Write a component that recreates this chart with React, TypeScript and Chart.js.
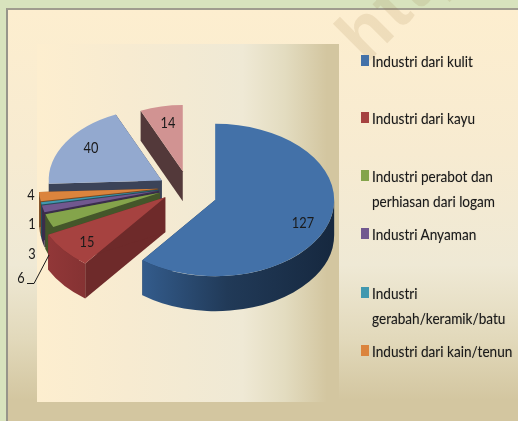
import React, { useEffect, useRef } from "react";
import { Chart, registerables } from "chart.js";

Chart.register(...registerables);

const categories = [
  "Industri dari kulit",
  "Industri dari kayu",
  "Industri perabot dan perhiasan dari logam",
  "Industri Anyaman",
  "Industri gerabah/keramik/batu",
  "Industri dari kain/tenun",
  "Lainnya A",
  "Lainnya B",
];
const values = [127, 15, 6, 3, 1, 4, 40, 14];
const topColors = ["#4371a8", "#a64240", "#84a44b", "#71588f", "#4198af", "#db843d", "#93a9cf", "#d19392"];
const sideColors = ["#1e3554", "#6e2a2a", "#44562a", "#3a2d4b", "#22505c", "#7a4a22", "#3b4358", "#53393a"];
const explode = [34, 23, 25, 25, 25, 25, 25, 30];
const sliceScale = [1, 1.1, 1, 1, 1, 1, 0.95, 0.87];
const nudgeX = [0, 0, 0, 0, 0, 0, 0, 6];
const nudgeY = [6, 1, 0, 0, 0, 0, 2, 3];
const depths = [35, 35, 35, 35, 35, 35, 35, 30];
const legendRows: { lines: string[]; color: string; top: number }[] = [
  { lines: ["Industri dari kulit"], color: "#4371a8", top: 61 },
  { lines: ["Industri dari kayu"], color: "#a64240", top: 118 },
  { lines: ["Industri perabot dan", "perhiasan dari logam"], color: "#84a44b", top: 176 },
  { lines: ["Industri Anyaman"], color: "#71588f", top: 234 },
  { lines: ["Industri", "gerabah/keramik/batu"], color: "#4198af", top: 293 },
  { lines: ["Industri dari kain/tenun"], color: "#db843d", top: 351 },
];
const labelSpots = [
  [303, 223], [87, 242], [21, 278], [32, 254], [32, 224], [31, 195], [91, 148], [168, 123],
];

const TILT = 0.64;
const SQUEEZE = 0.85;
const FONT = "16px Lato, sans-serif";

const pie3d = {
  id: "pie3d",
  beforeDatasetDraw(chart: any, args: any) {
    const ctx = chart.ctx as CanvasRenderingContext2D;
    const arcs = args.meta.data;
    for (let i = arcs.length - 1; i >= 0; i--) {
      const a = arcs[i];
      const k = sliceScale[i];
      const r = a.outerRadius * k;
      const mid = (a.startAngle + a.endAngle) / 2;
      const d = depths[i];
      const px = a.x + Math.cos(mid) * explode[i] + nudgeX[i];
      const py = a.y + Math.sin(mid) * explode[i] * TILT + nudgeY[i];
      ctx.save();
      ctx.fillStyle = sideColors[i];
      for (const ang of [a.startAngle, a.endAngle]) {
        const ex = px + Math.cos(ang) * r;
        const ey = py + Math.sin(ang) * r * TILT;
        ctx.beginPath();
        ctx.moveTo(px, py);
        ctx.lineTo(ex, ey);
        ctx.lineTo(ex, ey + d);
        ctx.lineTo(px, py + d);
        ctx.closePath();
        ctx.fill();
      }
      const from = Math.max(a.startAngle, 0);
      const to = Math.min(a.endAngle, Math.PI);
      if (to > from) {
        const g = ctx.createLinearGradient(px - r, 0, px + r, 0);
        if (i === 0) {
          g.addColorStop(0, "#3a659a");
          g.addColorStop(0.18, "#345d8e");
          g.addColorStop(0.55, "#213a58");
          g.addColorStop(1, "#16283f");
        } else if (i === 1) {
          g.addColorStop(0, "#96393a");
          g.addColorStop(0.3, "#7c2f2f");
          g.addColorStop(1, "#7c2f2f");
        } else {
          g.addColorStop(0, sideColors[i]);
          g.addColorStop(1, sideColors[i]);
        }
        ctx.fillStyle = g;
        ctx.beginPath();
        ctx.ellipse(px, py, r, r * TILT, 0, from, to);
        ctx.ellipse(px, py + d, r, r * TILT, 0, to, from, true);
        ctx.closePath();
        ctx.fill();
      }
      ctx.translate(px, py);
      ctx.scale(k, TILT * k);
      ctx.translate(-a.x, -a.y);
      a.draw(ctx);
      ctx.restore();
    }
    return false;
  },
  afterDatasetsDraw(chart: any) {
    const ctx = chart.ctx as CanvasRenderingContext2D;
    ctx.save();
    ctx.strokeStyle = "#1a1a1a";
    ctx.lineWidth = 1;
    ctx.beginPath();
    ctx.moveTo(27, 283.5);
    ctx.lineTo(34, 283.5);
    ctx.lineTo(49, 255);
    ctx.stroke();
    ctx.fillStyle = "#1a1a1a";
    ctx.font = FONT;
    ctx.textAlign = "center";
    ctx.textBaseline = "middle";
    values.forEach((v, i) => {
      ctx.save();
      ctx.translate(labelSpots[i][0], labelSpots[i][1]);
      ctx.scale(0.8, 1);
      ctx.fillText(String(v), 0, 0);
      ctx.restore();
    });
    ctx.restore();
  },
};

export default function App() {
  const ref = useRef<HTMLCanvasElement>(null);
  useEffect(() => {
    document.body.style.margin = "0";
    const chart = new Chart(ref.current!, {
      type: "pie",
      data: {
        labels: categories,
        datasets: [{ data: values, backgroundColor: topColors, borderWidth: 0 }],
      },
      options: {
        animation: false,
        responsive: false,
        devicePixelRatio: 1,
        radius: 119,
        layout: { padding: { right: 152, bottom: 47 } },
        plugins: { legend: { display: false }, tooltip: { enabled: false } },
      } as any,
      plugins: [pie3d],
    });
    return () => chart.destroy();
  }, []);

  return (
    <div style={{ position: "fixed", left: 0, top: 0, width: 518, height: 421, overflow: "hidden", background: "#d8e3bd" }}>
      <div
        style={{
          position: "absolute", left: 6, top: 8, width: 512, height: 413,
          borderLeft: "2px solid #97958a", borderTop: "2px solid #a09c8e", boxSizing: "border-box",
          background: "linear-gradient(180deg,#fdeecf 0%,#f7ebd1 35%,#efe9d5 62%,#e2d9bb 80%,#d3c6a0 95%,#d3c6a0 100%)",
        }}
      />
      <div
        style={{
          position: "absolute", left: 37, top: 44, width: 302, height: 358,
          background: "linear-gradient(90deg,#fdeecf 0%,#f7ebd1 30%,#efe9d5 68%,#e3dcc0 82%,#d3c6a0 96%,#d3c6a0 100%)",
        }}
      />
      <div
        style={{
          position: "absolute", left: 374, top: 0, fontFamily: "'Liberation Sans', sans-serif", fontWeight: 700,
          fontSize: 72, lineHeight: "72px", letterSpacing: 2, color: "rgba(140,100,40,0.12)",
          transform: "rotate(-45deg)", transformOrigin: "0 100%",
        }}
      >
        http
      </div>
      <canvas ref={ref} width={518} height={421} style={{ position: "absolute", left: 0, top: 0, display: "block" }} />
      {legendRows.map((row) => (
        <React.Fragment key={row.lines[0]}>
          <div style={{ position: "absolute", left: 361, top: row.top - 6, width: 8, height: 11, background: row.color }} />
          {row.lines.map((ln, k) => (
            <div
              key={ln}
              style={{
                position: "absolute", left: 372, top: row.top - 12 + k * 24.5, height: 24, lineHeight: "24px",
                fontFamily: "Lato, sans-serif", fontSize: 16, color: "#1a1a1a", whiteSpace: "nowrap",
                textShadow: "0 0 1px rgba(0,0,0,0.3)",
                transform: `scaleX(${SQUEEZE})`, transformOrigin: "0 50%",
              }}
            >
              {ln}
            </div>
          ))}
        </React.Fragment>
      ))}
    </div>
  );
}
